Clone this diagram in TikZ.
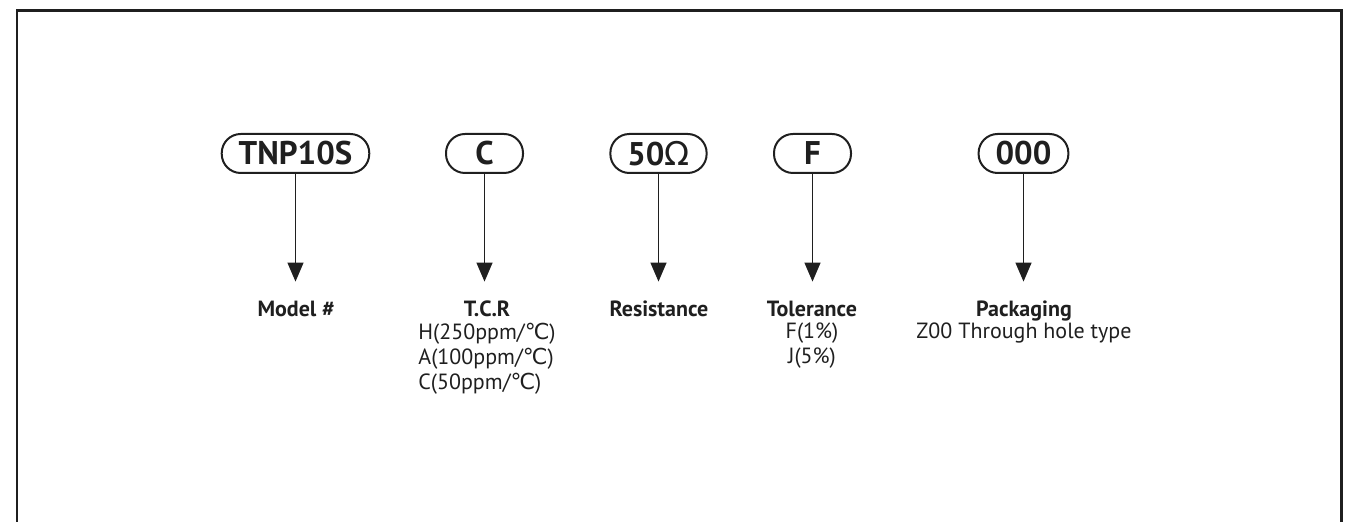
\documentclass[tikz,border=0pt]{standalone}
\usepackage{fontspec}
\setmainfont{PT Sans}
\newfontfamily\symfont{DejaVu Sans}
\usetikzlibrary{arrows.meta}
\definecolor{ink}{gray}{0.12}
\newcommand{\celsiusmark}{{\symfont ℃}}
\newcommand{\ohmmark}{{\symfont\mdseries Ω}}
\def\canvas{(0,0) rectangle (1351,522)}
\def\frameline{(17,522) -- (17,10.5) -- (1341.5,10.5) -- (1341.5,522)}

\begin{document}
\begin{tikzpicture}[x=0.5pt,y=-0.5pt,
    code/.style={draw=ink,line width=1pt,rounded corners=9.5pt,minimum width=38.5pt,
        minimum height=19.5pt,inner xsep=8.5pt,inner ysep=0pt,text=ink,
        font=\fontsize{16.4}{18}\selectfont\bfseries},
    title/.style={anchor=base,inner sep=0pt,text height=8pt,text depth=2.5pt,text=ink,
        font=\fontsize{11}{12.5}\selectfont\bfseries},
    detail/.style={anchor=north,inner sep=0pt,text=ink,
        font=\fontsize{11}{12.5}\selectfont},
    arr/.style={draw=ink,line width=0.65pt,-{Triangle[length=9.5pt,width=8pt]},shorten >=9.5pt}]
\useasboundingbox \canvas;
\draw[ink,line width=1.3pt] \frameline;
% part number codes
\node[code] (tnp) at (295.5,153.5) {TNP10S};
\node[code] (tcr) at (484.5,153.5) {C};
\node[code] (res) at (658.5,153.5) {50\ohmmark};
\node[code] (tol) at (812.5,153.5) {F};
\node[code] (pkg) at (1023.5,153.5) {000};
% meanings
\node[title] (model) at (296,317) {Model \#};
\node[title] (tcrtitle) at (487,317) {T.C.R};
\node[title] (restitle) at (659,317) {Resistance};
\node[title] (toltitle) at (812,317) {Tolerance};
\node[title] (pkgtitle) at (1024,317) {Packaging};
\node[detail,align=left] (tcrlist) at (tcrtitle.south)
    {H(250ppm/\celsiusmark)\\A(100ppm/\celsiusmark)\\C(50ppm/\celsiusmark)};
\node[detail,align=center] (tollist) at (toltitle.south) {F(1\%)\\J(5\%)};
\node[detail] (pkglist) at (pkgtitle.south) {Z00 Through hole type};
% arrows
\draw[arr] (tnp) -- (tnp |- model.north);
\draw[arr] (tcr) -- (tcr |- tcrtitle.north);
\draw[arr] (res) -- (res |- restitle.north);
\draw[arr] (tol) -- (tol |- toltitle.north);
\draw[arr] (pkg) -- (pkg |- pkgtitle.north);
\end{tikzpicture}
\end{document}
